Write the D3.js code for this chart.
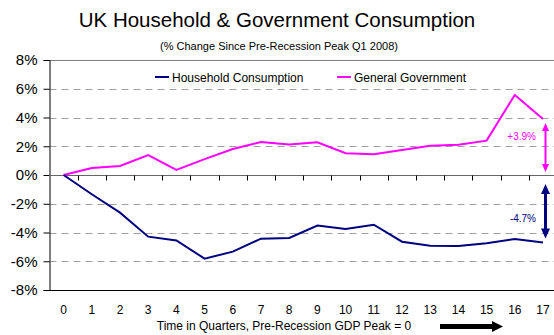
<!DOCTYPE html>
<html>
<head>
<meta charset="utf-8">
<script src="https://cdn.jsdelivr.net/npm/d3@7/dist/d3.min.js"></script>
<style>
  html, body { margin: 0; padding: 0; background: #fff; }
  svg { display: block; font-family: "Liberation Sans", Arial, sans-serif; }
</style>
</head>
<body>
<svg id="chart" width="554" height="335"></svg>
<script>
// Quarters since the pre-recession GDP peak
const quarters = d3.range(0, 18);
// % change since Q1 2008
const household = [0, -1.34, -2.62, -4.29, -4.55, -5.82, -5.33, -4.43, -4.38, -3.52, -3.76, -3.46, -4.64, -4.92, -4.94, -4.75, -4.45, -4.7];
const government = [0, 0.49, 0.63, 1.39, 0.36, 1.1, 1.81, 2.3, 2.13, 2.27, 1.51, 1.44, 1.74, 2.04, 2.1, 2.39, 5.57, 3.9];
const yTicks = [-8, -6, -4, -2, 0, 2, 4, 6, 8];
const seriesNames = ["Household Consumption", "General Government"];
const govChange = 3.9;
const hhChange = -4.7;

const NAVY = "#000080", MAGENTA = "#ff00ff";

const svg = d3.select("#chart");
const plotLeft = 49.5, plotTop = 60, plotBottom = 290;
const step = 28.2;

const x = d3.scaleBand().domain(quarters).range([plotLeft, plotLeft + step * quarters.length]).padding(0);
const y = d3.scaleLinear().domain([-8, 8]).range([plotBottom, plotTop]);
const cx = d => x(d) + x.bandwidth() / 2;

// Titles
svg.append("text").attr("x", 277).attr("y", 27).attr("text-anchor", "middle")
  .attr("font-size", 20.5).attr("fill", "#000").text("UK Household & Government Consumption");
svg.append("text").attr("x", 279).attr("y", 50).attr("text-anchor", "middle")
  .attr("font-size", 11).attr("fill", "#000").text("(% Change Since Pre-Recession Peak Q1 2008)");

// Gridlines
svg.append("g").selectAll("line").data(yTicks.filter(v => v !== 0 && Math.abs(v) !== 8)).join("line")
  .attr("x1", plotLeft).attr("x2", 554)
  .attr("y1", d => Math.round(y(d)) + 0.5).attr("y2", d => Math.round(y(d)) + 0.5)
  .attr("stroke", "#a0a0a0").attr("stroke-width", 1).attr("stroke-dasharray", "7,5");

// Top and bottom borders
svg.append("line").attr("x1", plotLeft).attr("x2", 554).attr("y1", Math.round(y(8)) + 0.5).attr("y2", Math.round(y(8)) + 0.5)
  .attr("stroke", "#808080");
svg.append("line").attr("x1", plotLeft).attr("x2", 554).attr("y1", Math.round(y(-8)) + 0.5).attr("y2", Math.round(y(-8)) + 0.5)
  .attr("stroke", "#000");

// Y axis
const yAxis = svg.append("g").attr("transform", `translate(${plotLeft},0)`)
  .call(d3.axisLeft(y).tickValues(yTicks).tickSize(6).tickPadding(6).tickFormat(d => d + "%"));
yAxis.select(".domain").attr("stroke", "#000");
yAxis.selectAll(".tick line").attr("stroke", "#000");
yAxis.selectAll(".tick text").attr("font-size", 15).attr("font-family", "Liberation Sans, Arial, sans-serif").attr("fill", "#000");

// Zero line with category boundary ticks
const y0 = Math.round(y(0)) + 0.5;
svg.append("line").attr("x1", plotLeft).attr("x2", 554).attr("y1", y0).attr("y2", y0).attr("stroke", "#666");
svg.append("g").selectAll("line").data(quarters.slice(1)).join("line")
  .attr("x1", d => Math.round(x(d)) + 0.5).attr("x2", d => Math.round(x(d)) + 0.5)
  .attr("y1", y0).attr("y2", y0 + 5).attr("stroke", "#000");

// X tick labels along the bottom
const xAxis = svg.append("g").attr("transform", `translate(0,${plotBottom})`)
  .call(d3.axisBottom(x).tickSize(0).tickPadding(15));
xAxis.select(".domain").remove();
xAxis.selectAll(".tick text").attr("font-size", 12).attr("font-family", "Liberation Sans, Arial, sans-serif").attr("fill", "#000");

svg.append("text").attr("x", 284).attr("y", 330).attr("text-anchor", "middle")
  .attr("font-size", 12).attr("fill", "#000").text("Time in Quarters, Pre-Recession GDP Peak = 0");

// Direction arrow
svg.append("path").attr("d", "M440,324 L492,324 L492,321 L503,326.5 L492,332 L492,329 L440,329 Z").attr("fill", "#000");

// Series lines
const line = d3.line().x((d, i) => cx(quarters[i])).y(d => y(d));
svg.append("path").datum(government).attr("d", line).attr("fill", "none").attr("stroke", MAGENTA).attr("stroke-width", 2);
svg.append("path").datum(household).attr("d", line).attr("fill", "none").attr("stroke", NAVY).attr("stroke-width", 2);

// Legend
const legend = [
  { name: seriesNames[0], color: NAVY, x: 155 },
  { name: seriesNames[1], color: MAGENTA, x: 337 }
];
const lg = svg.append("g").selectAll("g").data(legend).join("g");
lg.append("line").attr("x1", d => d.x).attr("x2", d => d.x + 14).attr("y1", 77).attr("y2", 77)
  .attr("stroke", d => d.color).attr("stroke-width", 2);
lg.append("text").attr("x", d => d.x + 17).attr("y", 81.5).attr("font-size", 12).attr("fill", "#000").text(d => d.name);

// Change annotations with double-headed arrows
function dblArrow(xp, y1, y2, color, w, head) {
  const g = svg.append("g");
  g.append("line").attr("x1", xp).attr("x2", xp).attr("y1", y1 + head).attr("y2", y2 - head)
    .attr("stroke", color).attr("stroke-width", w);
  g.append("path").attr("d", `M${xp},${y1} L${xp - head / 2},${y1 + head + 1} L${xp + head / 2},${y1 + head + 1} Z`).attr("fill", color);
  g.append("path").attr("d", `M${xp},${y2} L${xp - head / 2},${y2 - head - 1} L${xp + head / 2},${y2 - head - 1} Z`).attr("fill", color);
}
const ax = 545.5;
dblArrow(ax, y(govChange) + 4, y(0) - 3, MAGENTA, 2, 7);
dblArrow(ax, y(0) + 9, y(hhChange) - 4, NAVY, 3, 9);

svg.append("text").attr("x", 536).attr("y", 139.5).attr("text-anchor", "end")
  .attr("font-size", 10).attr("fill", MAGENTA).text("+" + govChange + "%");
svg.append("text").attr("x", 536).attr("y", 221.5).attr("text-anchor", "end")
  .attr("font-size", 10).attr("fill", NAVY).text(hhChange + "%");
</script>
</body>
</html>
